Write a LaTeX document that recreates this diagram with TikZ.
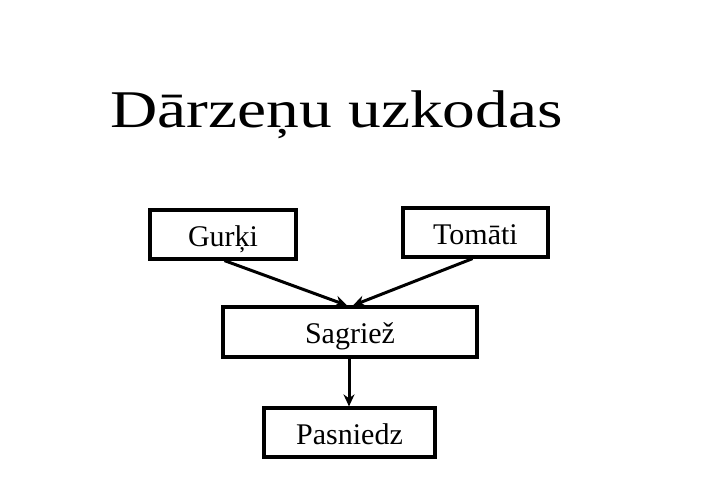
\documentclass[tikz,border=0pt]{standalone}
\usepackage{fontspec}
\usepackage{graphicx}
\setmainfont{Liberation Serif}
\usetikzlibrary{calc,arrows.meta}
\begin{document}
\begin{tikzpicture}[x=1pt,y=-1pt,
  boxst/.style={draw=black,line width=3.2pt,inner sep=0pt,text height=26pt,text depth=3pt,font=\fontsize{30}{33}\selectfont},
  arr/.style={line width=3pt,-{Stealth[length=12pt,width=11pt]}}]
\useasboundingbox[fill=white] (0,0) rectangle (720,496);
\node[anchor=base,inner sep=0pt] (title) at (336.5,127) {\scalebox{1.235}[1]{\fontsize{53}{58}\selectfont Dārzeņu uzkodas}};
\node[boxst,minimum width=146pt,minimum height=49pt] (g) at (223,234.5) {Gurķi};
\node[boxst,minimum width=145pt,minimum height=49pt] (t) at (475.5,232.5) {Tomāti};
\node[boxst,minimum width=254pt,minimum height=50pt] (s) at (350,332) {Sagriež};
\node[boxst,minimum width=171pt,minimum height=49pt] (p) at (349.5,432.5) {Pasniedz};
\draw[arr] ($(g.south west)!0.51!(g.south east)$) -- ([xshift=-3pt]s.north);
\draw[arr] ($(t.south west)!0.48!(t.south east)$) -- ([xshift=3pt]s.north);
\draw[arr] ([xshift=-1pt]s.south) -- ([xshift=-0.5pt]p.north);
\end{tikzpicture}
\end{document}
